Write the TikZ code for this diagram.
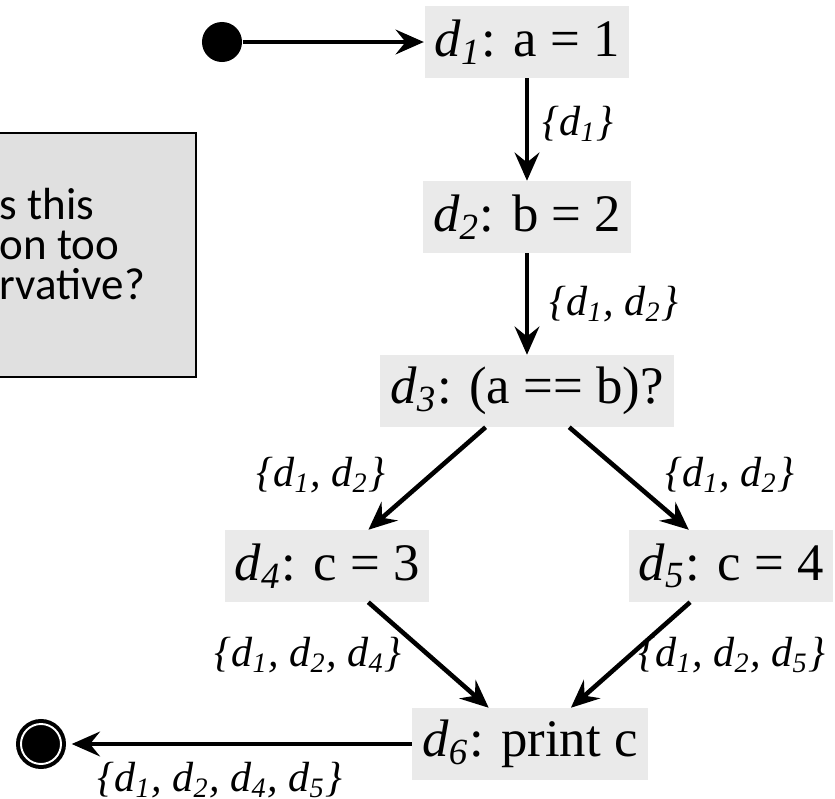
\documentclass[tikz,border=0pt]{standalone}
\usepackage{fontspec}
\setmainfont{Liberation Serif}
\newfontfamily\notefont{Carlito}
\usepackage{tikz}
\usetikzlibrary{arrows.meta}
\definecolor{StmtGray}{HTML}{EAEAEA}
\definecolor{NoteGray}{HTML}{E0E0E0}
\newcommand{\dv}[1]{\textit{d}\textsubscript{\textit{#1}}}

\begin{document}
\begin{tikzpicture}[x=0.01cm,y=-0.01cm,>={Stealth[length=8pt,width=7pt,inset=2.8pt]},
  stmt/.style={fill=StmtGray,minimum height=0.71cm,inner xsep=0.1cm,inner ysep=0pt,
    font=\fontsize{15}{18}\selectfont},
  setlabel/.style={inner sep=0pt,font=\fontsize{12}{14}\selectfont\itshape},
  flow/.style={->,line width=1.3pt},
  notebox/.style={draw,line width=0.6pt,fill=NoteGray,minimum width=2.01cm,minimum height=2.44cm},
  noteline/.style={anchor=base west,inner sep=0pt,font=\notefont\fontsize{12.8}{15}\selectfont}]
  \useasboundingbox (0,0) rectangle (835,799);
  \clip (0,0) rectangle (835,799);
  % the note, cut off by the left edge
  \node[notebox] (note) at (95.5,255) {};
  \node[noteline] (q1) at (-1,219) {s this};
  \node[noteline] (q2) at (-1,259) {on too};
  \node[noteline] (q3) at (-1,299) {rvative?};
  % entry and exit
  \node[circle,fill,minimum size=0.4cm,inner sep=0pt] (init) at (222,42) {};
  \node[circle,fill,minimum size=0.5cm,inner sep=0pt,
    path picture={\draw[white,line width=0.55pt] (path picture bounding box.center) circle (0.2cm);}]
    (final) at (41,744) {};
  % statements
  \node[stmt] (d1) at (527,42) {\dv{1}: a = 1};
  \node[stmt] (d2) at (527,217) {\dv{2}: b = 2};
  \node[stmt] (d3) at (527,391) {\dv{3}: (a == b)?};
  \node[stmt] (d4) at (327,566) {\dv{4}: c = 3};
  \node[stmt] (d5) at (731,566) {\dv{5}: c = 4};
  \node[stmt] (d6) at (530,744) {\dv{6}: print c};
  % flow
  \draw[flow] (init) -- (d1);
  \draw[flow] (d1) -- (d2);
  \draw[flow] (d2) -- (d3);
  \draw[flow] (d3) -- (d4);
  \draw[flow] (d3) -- (d5);
  \draw[flow] (d4) -- (d6);
  \draw[flow] (d5) -- (d6);
  \draw[flow,shorten >=0.05cm] (d6) -- (final);
  % reaching definitions
  \node[setlabel] (in2) at (578,124) {\{\dv{1}\}};
  \node[setlabel] (in3) at (614,304) {\{\dv{1}, \dv{2}\}};
  \node[setlabel] (in4) at (321,475) {\{\dv{1}, \dv{2}\}};
  \node[setlabel] (in5) at (730,475) {\{\dv{1}, \dv{2}\}};
  \node[setlabel] (in6l) at (308,655) {\{\dv{1}, \dv{2}, \dv{4}\}};
  \node[setlabel] (in6r) at (732,655) {\{\dv{1}, \dv{2}, \dv{5}\}};
  \node[setlabel] (out) at (220,780) {\{\dv{1}, \dv{2}, \dv{4}, \dv{5}\}};
\end{tikzpicture}
\end{document}
